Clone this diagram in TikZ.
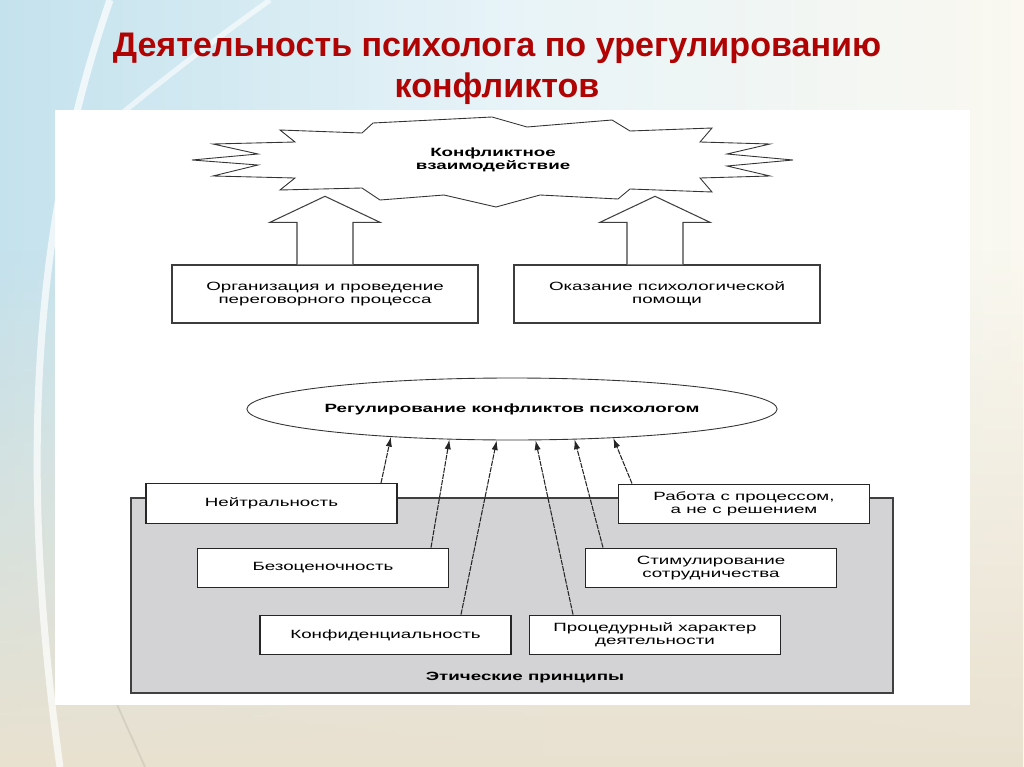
\documentclass[tikz,border=0pt]{standalone}
\usepackage{fontspec}
\setmainfont{Liberation Sans}
\newfontfamily\diafont[FakeStretch=1.57]{Liberation Sans}
\usetikzlibrary{arrows.meta,positioning,shapes.geometric,calc,fadings}
\definecolor{titlered}{RGB}{176,4,4}
\definecolor{bgcyan}{RGB}{196,226,237}
\definecolor{bgcream}{RGB}{250,248,240}
\definecolor{bgbeige}{RGB}{233,225,208}
\definecolor{framegray}{RGB}{211,211,213}
\definecolor{linegray}{RGB}{60,60,60}

\begin{document}
\begin{tikzpicture}[
  x=0.02cm, y=-0.02cm,
  every node/.style={font=\diafont\fontsize{6.8pt}{7.6pt}\selectfont, align=center},
  bigbox/.style={draw=linegray, line width=0.8pt, fill=white, minimum width=6.12cm, minimum height=1.16cm, inner sep=1pt},
  smallbox/.style={draw=black!85, line width=0.8pt, fill=white, minimum width=5.02cm, minimum height=0.79cm, inner sep=1pt},
  burst/.style={draw=black!80, line width=0.5pt, fill=white},
  blockarr/.style={draw=black!75, line width=0.6pt, fill=white},
  arr/.style={-{Latex[length=5.5pt,width=3.6pt]}, line width=0.6pt, color=black!85, dash pattern=on 3pt off 0.6pt}
]
  \useasboundingbox (0,0) rectangle (1024,767);

  % slide background
  \shade[left color=bgcyan, right color=bgcream, middle color=bgcyan!40!white] (0,0) rectangle (1024,767);
  \fill[bgbeige, path fading=north] (0,250) rectangle (1024,767);
  \draw[white, line width=4pt, opacity=0.7] (110,0) .. controls (30,230) and (20,480) .. (60,767);
  \draw[white, line width=3pt, opacity=0.6] (270,0) .. controls (200,50) and (150,90) .. (120,115);
  \draw[bgbeige!80!black, line width=1pt, opacity=0.4] (115,700) -- (145,767);

  % title
  \node[font=\bfseries\fontsize{19.4pt}{23pt}\selectfont, text=titlered] (title) at (497,69)
    {Деятельность психолога по урегулированию\\конфликтов};

  % white sheet with the scheme
  \fill[white] (55,110) rectangle (970,705);

  % conflict burst
  \draw[burst] (280,130) -- (362,133) -- (373,123) -- (492,117) -- (527,127) -- (612,120) -- (630,131)
    -- (712,128) -- (700,142) -- (770,144) -- (727,154) -- (793,160) -- (727,166) -- (770,176) -- (700,178)
    -- (712,192) -- (630,189) -- (618,199) -- (540,195) -- (496,207) -- (444,195) -- (380,200) -- (362,188)
    -- (280,190) -- (295,178) -- (213,176) -- (258,165) -- (192,160) -- (258,154) -- (213,144) -- (295,142) -- cycle;
  \node[font=\diafont\bfseries\fontsize{6.8pt}{7.4pt}\selectfont] (conflict) at (493,160) {Конфликтное\\взаимодействие};

  % two activities
  \node[bigbox] (org)  at (325,294) {Организация и проведение\\переговорного процесса};
  \node[bigbox] (help) at (667,294) {Оказание психологической\\помощи};

  % block arrows up to the burst
  \draw[blockarr] ($(org.north)+(-28,0)$) -- ++(0,-42) -- ++(-27,0) -- ++(55,-26) -- ++(55,26) -- ++(-27,0) -- ++(0,42);
  \draw[blockarr] ($(help.north)+(-40,0)$) -- ++(0,-42) -- ++(-27,0) -- ++(55,-26) -- ++(55,26) -- ++(-27,0) -- ++(0,42);

  % regulation
  \node[ellipse, draw=black!80, line width=0.5pt, minimum width=10.32cm, minimum height=1.24cm, inner sep=0pt,
        font=\diafont\bfseries\fontsize{6.8pt}{7.4pt}\selectfont] (reg) at (512,409) {Регулирование конфликтов психологом};

  % ethical principles
  \node[draw=black!75, line width=1pt, fill=framegray, minimum width=15.24cm, minimum height=3.9cm] (principles) at (512,595.5) {};
  \node[font=\diafont\bfseries\fontsize{6.8pt}{7.4pt}\selectfont] (ethics) at (525,678) {Этические принципы};

  \node[smallbox] (neutral) at (271.5,503.5) {Нейтральность};
  \node[smallbox] (bezoc)   at (323,568)     {Безоценочность};
  \node[smallbox] (konf)    at (385.5,635)   {Конфиденциальность};
  \node[smallbox] (rabota)  at (744,504)     {Работа с процессом,\\а не с решением};
  \node[smallbox] (stim)    at (711,568)     {Стимулирование\\сотрудничества};
  \node[smallbox] (proc)    at (655,635)     {Процедурный характер\\деятельности};

  \foreach \b/\dx/\a in {neutral/109.5/193, bezoc/108/206, konf/75.5/244, proc/-82/307, stim/-108/334.5, rabota/-112/344}
    \draw[arr] ($(\b.north)+(\dx,0)$) -- (reg.\a);
\end{tikzpicture}
\end{document}
